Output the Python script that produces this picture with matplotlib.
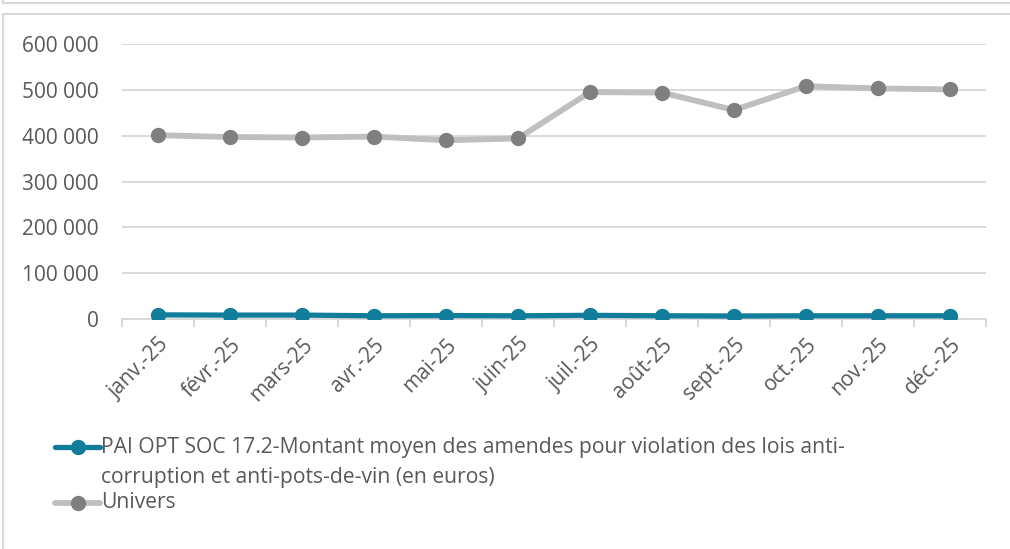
import matplotlib
matplotlib.use("Agg")
import matplotlib.pyplot as plt
from matplotlib.lines import Line2D
from matplotlib.ticker import FuncFormatter, FixedLocator
import numpy as np

plt.rcParams['font.family'] = ['Open Sans', 'DejaVu Sans']

months = ["janv.-25", "févr.-25", "mars-25", "avr.-25", "mai-25", "juin-25",
          "juil.-25", "août-25", "sept.-25", "oct.-25", "nov.-25", "déc.-25"]
pai_values = [9000, 8500, 8500, 7000, 7500, 7000, 8000, 7000, 6500, 7000, 7000, 7000]
univers_values = [401000, 397000, 396000, 398000, 390000, 394000,
                  495000, 494000, 456000, 508000, 503000, 501000]
pai_label_1 = "PAI OPT SOC 17.2-Montant moyen des amendes pour violation des lois anti-"
pai_label_2 = "corruption et anti-pots-de-vin (en euros)"
univers_label = "Univers"

TEAL = "#117D9B"
LGREY = "#BFBFBF"
DGREY = "#7F7F7F"
TXT = "#595959"
GRID = "#D9D9D9"

W, H = 1010, 549
fig = plt.figure(figsize=(W / 100, H / 100), dpi=100)
fig.patch.set_facecolor("white")

ax = fig.add_axes([122 / W, 1 - 319 / H, (986 - 122) / W, (319 - 44) / H])
x = np.arange(len(months))
ax.plot(x, univers_values, color=LGREY, lw=4.2, marker="o", ms=10,
        mfc=DGREY, mec=DGREY, solid_joinstyle="round", zorder=3)
ax.plot(x, pai_values, color=TEAL, lw=3.8, marker="o", ms=10,
        mfc=TEAL, mec=TEAL, solid_joinstyle="round", zorder=4)

ax.set_xlim(-0.5, len(months) - 0.5)
ax.set_ylim(0, 600000)
ax.set_yticks(np.arange(0, 600001, 100000))
ax.yaxis.set_major_formatter(FuncFormatter(lambda v, p: f"{int(v):,}".replace(",", " ")))
ax.grid(axis="y", color=GRID, lw=1.4)
ax.set_axisbelow(True)
for s in ["top", "right", "left"]:
    ax.spines[s].set_visible(False)
ax.spines["bottom"].set_color(GRID)
ax.spines["bottom"].set_linewidth(1.4)
ax.tick_params(axis="y", length=0, pad=17, labelsize=15, labelcolor=TXT)

ax.set_xticks(x)
ax.set_xticklabels(months, rotation=45, ha="right", va="top",
                   rotation_mode="anchor", fontsize=15, color=TXT)
ax.tick_params(axis="x", which="major", length=0, pad=11)
ax.xaxis.set_minor_locator(FixedLocator(np.arange(-0.5, len(months), 1.0)))
ax.tick_params(axis="x", which="minor", length=6, width=1.4, color=GRID)

# Legend (drawn manually in figure pixels)
def fx(px):
    return px / W

def fy(py):
    return 1 - py / H

LFS = 15.2
fig.add_artist(Line2D([fx(55), fx(100)], [fy(447), fy(447)], color=TEAL, lw=3.8,
                      solid_capstyle="round"))
fig.add_artist(Line2D([fx(78)], [fy(447)], color=TEAL, marker="o", ms=10, lw=0))
fig.text(fx(101), fy(447), pai_label_1, fontsize=LFS, color=TXT, va="center", ha="left")
fig.text(fx(101), fy(477), pai_label_2, fontsize=LFS, color=TXT, va="center", ha="left")
fig.add_artist(Line2D([fx(55), fx(100)], [fy(503), fy(503)], color=LGREY, lw=4.2,
                      solid_capstyle="round"))
fig.add_artist(Line2D([fx(78)], [fy(503)], color=DGREY, marker="o", ms=10, lw=0))
fig.text(fx(101), fy(503), univers_label, fontsize=LFS, color=TXT, va="center", ha="left")

# Frames
fig.add_artist(Line2D([fx(3), fx(1010)], [fy(3), fy(3)], color="#D9D9D9", lw=1.5))
fig.add_artist(Line2D([fx(3), fx(3)], [fy(0), fy(3)], color="#D9D9D9", lw=1.5))
fig.add_artist(Line2D([fx(3), fx(1010)], [fy(14), fy(14)], color="#D9D9D9", lw=1.5))
fig.add_artist(Line2D([fx(3), fx(3)], [fy(14), fy(549)], color="#D9D9D9", lw=1.5))

fig.savefig("out.png", dpi=100, facecolor="white")
